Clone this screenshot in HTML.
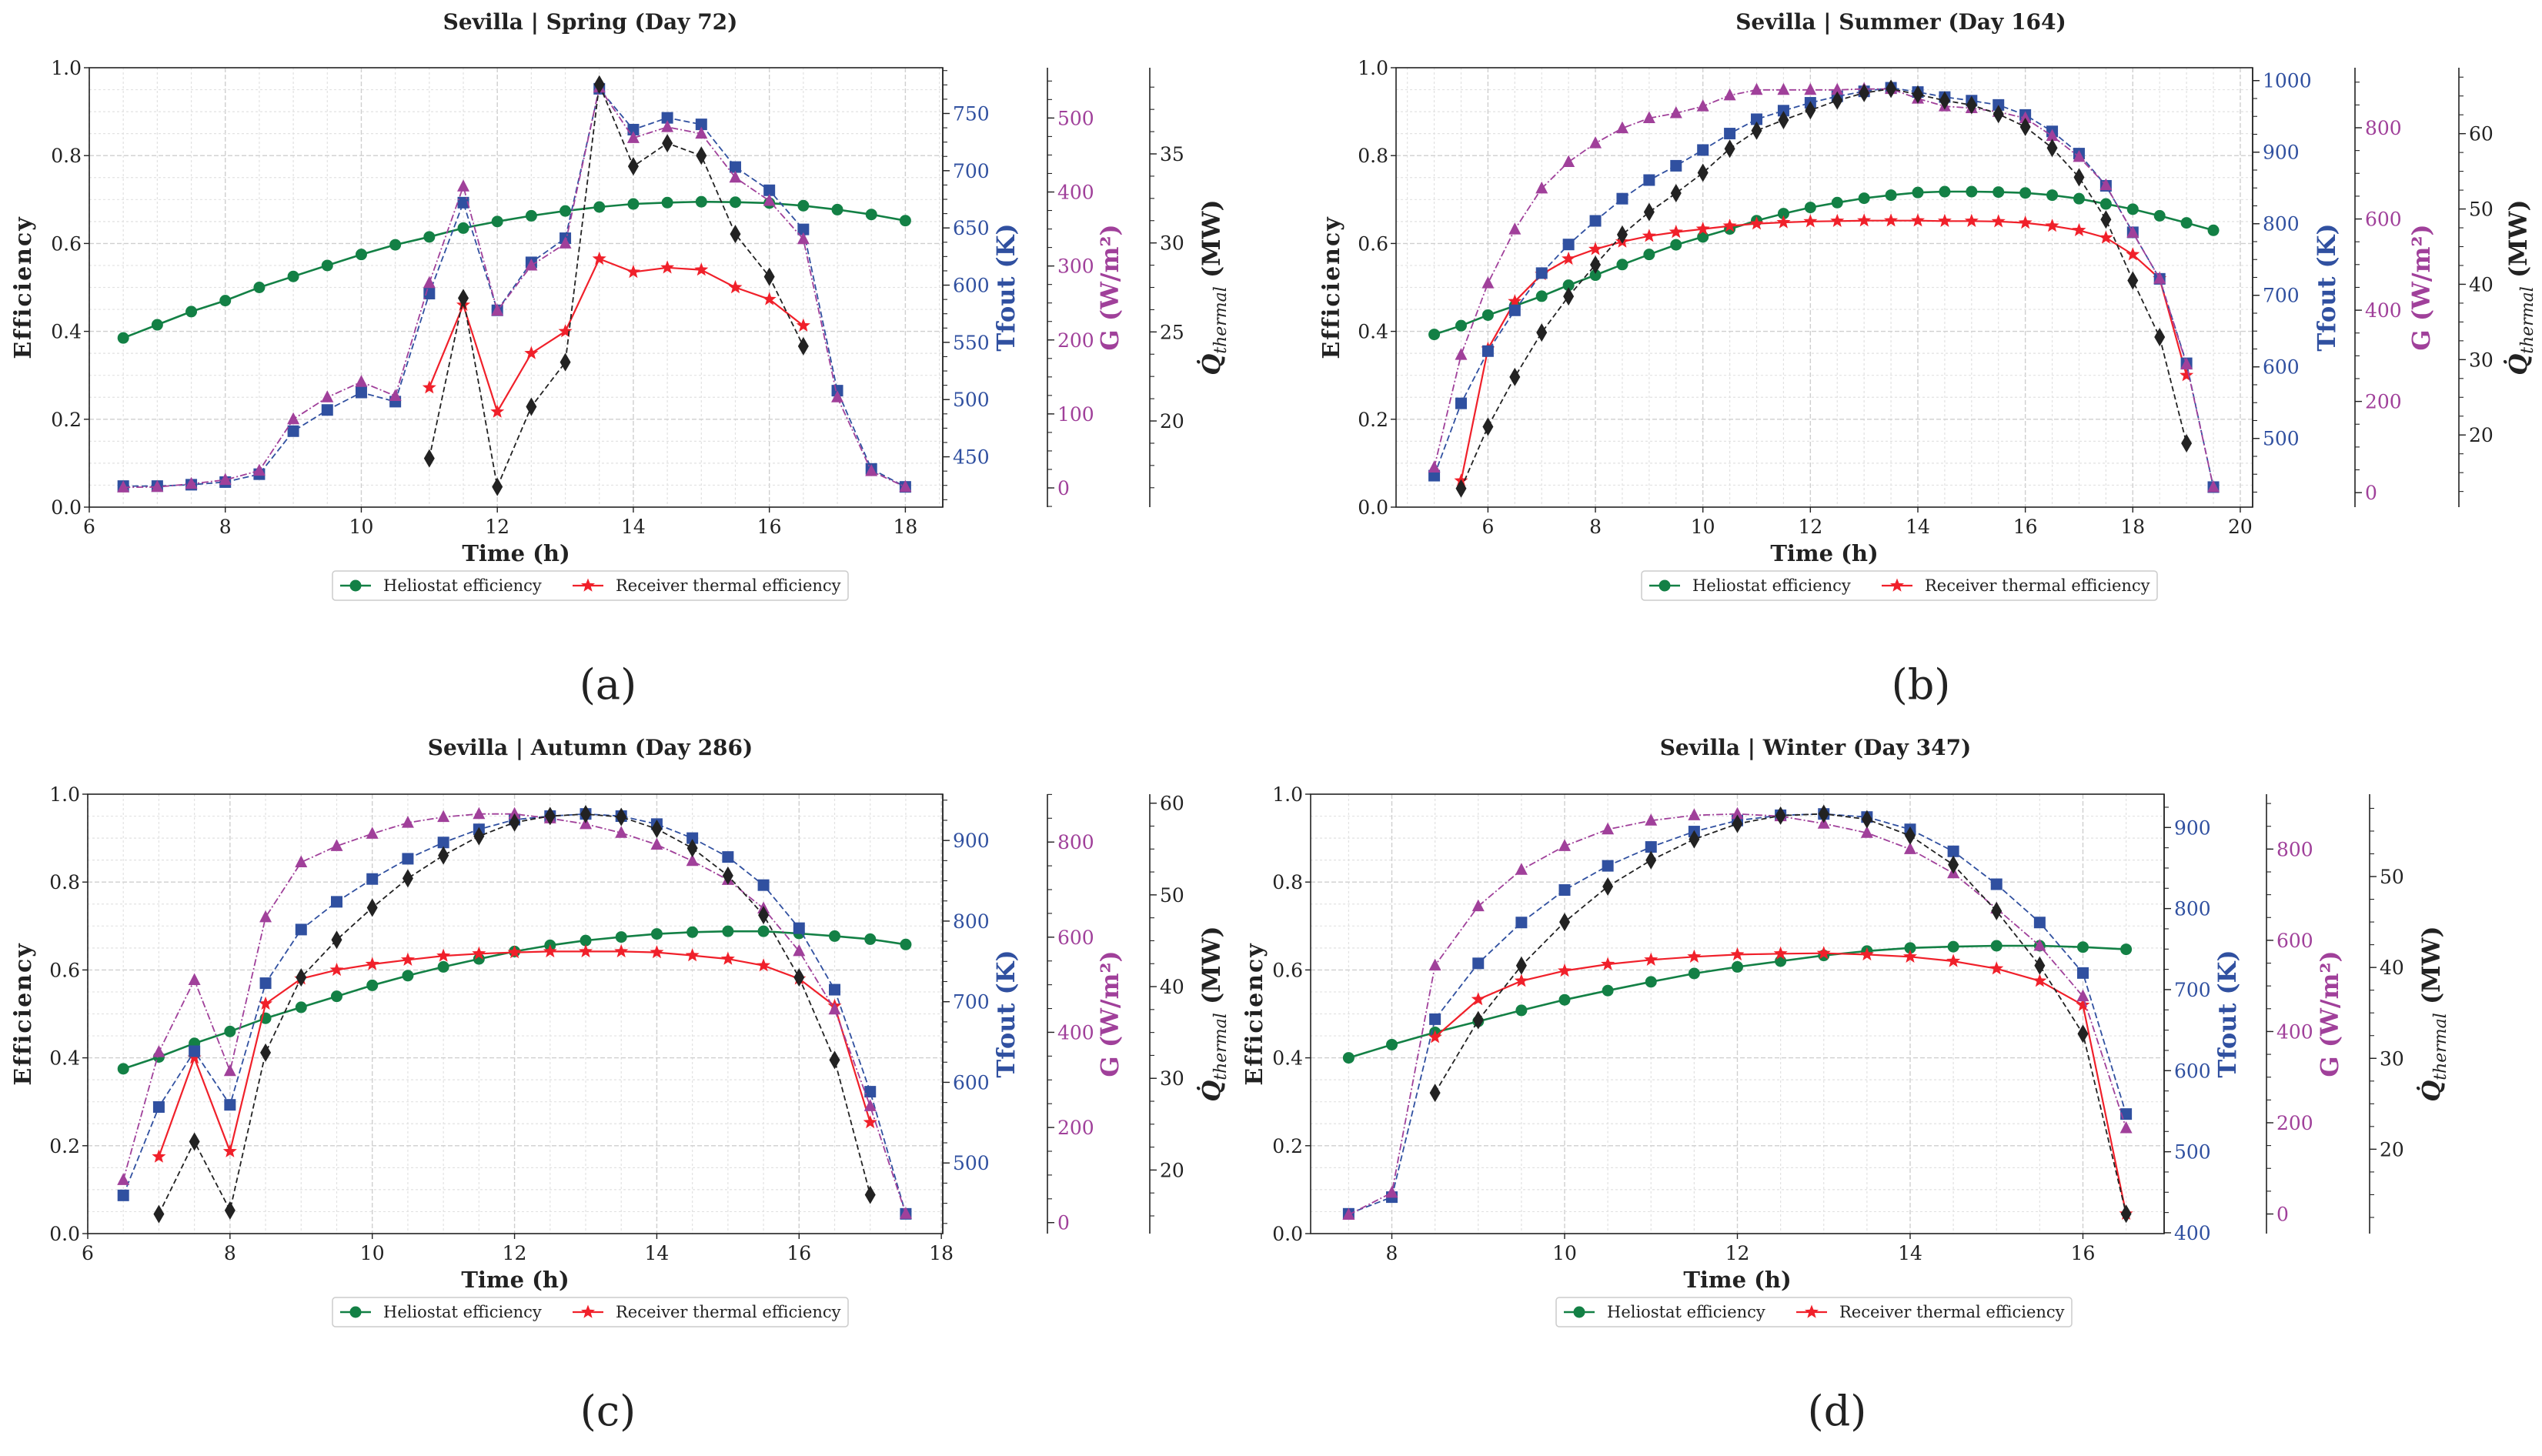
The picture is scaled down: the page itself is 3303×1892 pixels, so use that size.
<!DOCTYPE html>
<html><head><meta charset="utf-8"><style>
html,body{margin:0;padding:0;background:#fff;}
svg{display:block;}
text{font-family:"DejaVu Serif","Liberation Serif",serif;}
</style></head><body>
<svg id="fig" xmlns="http://www.w3.org/2000/svg" width="3303" height="1892" viewBox="0 0 3303 1892">
<rect width="3303" height="1892" fill="#fff"/>
</svg>
<script>
// ---------- Panel (a) Spring ----------
const aTimes=[6.5,7,7.5,8,8.5,9,9.5,10,10.5,11,11.5,12,12.5,13,13.5,14,14.5,15,15.5,16,16.5,17,17.5,18];
const aHelio=[0.385,0.415,0.445,0.47,0.5,0.525,0.55,0.575,0.597,0.615,0.635,0.65,0.663,0.674,0.683,0.69,0.693,0.695,0.694,0.692,0.686,0.677,0.666,0.652];
const aRecvTimes=[11,11.5,12,12.5,13,13.5,14,14.5,15,15.5,16,16.5];
const aRecv=[0.272,0.46,0.217,0.35,0.4,0.565,0.535,0.545,0.54,0.5,0.473,0.413];
const aTfout=[424.4,424.4,425.6,427.9,434.8,472.4,490.9,506.2,498.2,592.6,672.1,578,619.9,641,771.6,735.9,746.2,740.5,703.2,682.9,648.7,507.8,439.4,423.7];
const aG=[0.7,1.3,5.5,10.8,23.3,92.8,122.5,143.3,124.3,277,407.6,239.5,300.7,330.4,541.3,473,487.8,478.9,419.5,388,336.3,122.5,22.7,1.3];
const aQ=[17.9,26.9,16.3,20.8,23.3,38.9,34.3,35.6,34.9,30.5,28.1,24.2];
// ---------- Panel (b) Summer ----------
const bTimes=[5,5.5,6,6.5,7,7.5,8,8.5,9,9.5,10,10.5,11,11.5,12,12.5,13,13.5,14,14.5,15,15.5,16,16.5,17,17.5,18,18.5,19,19.5];
const bHelio=[0.393,0.413,0.437,0.458,0.48,0.505,0.528,0.552,0.575,0.597,0.615,0.633,0.652,0.668,0.682,0.693,0.703,0.71,0.716,0.718,0.718,0.717,0.715,0.71,0.702,0.69,0.678,0.663,0.647,0.63];
const bRecvTimes=[5.5,6,6.5,7,7.5,8,8.5,9,9.5,10,10.5,11,11.5,12,12.5,13,13.5,14,14.5,15,15.5,16,16.5,17,17.5,18,18.5,19];
const bRecv=[0.06,0.36,0.468,0.53,0.565,0.587,0.604,0.617,0.626,0.633,0.64,0.645,0.648,0.65,0.651,0.652,0.652,0.652,0.651,0.651,0.65,0.647,0.64,0.63,0.613,0.575,0.52,0.3];
const bTfout=[448,549,622,679,731,771,804,835,861,881,903,926,946,958,969,978,985,990,984,977,972,966,952,929,898,853,788,723,605,432];
const bG=[55,302,459,577,667,725,766,799,821,832,847,871,883,883,883,883,885,885,864,847,843,835,821,782,736,674,570,469,281,12];
const bQTimes=[5.5,6,6.5,7,7.5,8,8.5,9,9.5,10,10.5,11,11.5,12,12.5,13,13.5,14,14.5,15,15.5,16,16.5,17,17.5,18,18.5,19];
const bQ=[12.9,21.1,27.7,33.6,38.4,42.6,46.6,49.6,52.1,54.8,58.0,60.4,61.8,63.1,64.4,65.4,65.95,65.2,64.4,63.8,62.6,60.9,58.1,54.2,48.6,40.5,33.0,18.9];
// ---------- Panel (c) Autumn ----------
const cTimes=[6.5,7,7.5,8,8.5,9,9.5,10,10.5,11,11.5,12,12.5,13,13.5,14,14.5,15,15.5,16,16.5,17,17.5];
const cHelio=[0.375,0.402,0.433,0.46,0.49,0.515,0.54,0.565,0.587,0.607,0.625,0.642,0.656,0.667,0.675,0.682,0.686,0.688,0.688,0.683,0.677,0.67,0.658];
const cRecvTimes=[7,7.5,8,8.5,9,9.5,10,10.5,11,11.5,12,12.5,13,13.5,14,14.5,15,15.5,16,16.5,17];
const cRecv=[0.175,0.4,0.187,0.523,0.58,0.6,0.613,0.623,0.632,0.637,0.64,0.642,0.642,0.642,0.64,0.633,0.625,0.61,0.58,0.518,0.253];
const cTfout=[459.8,569.4,638.6,572.1,723,789.5,823.9,852.2,877.3,897.5,913.8,925.8,930.2,932.9,930.2,920.3,902.9,879.5,844.6,791.2,714.9,588.4,436.9];
const cG=[89.6,358.4,509.9,318.7,642,757.4,791.6,817.5,840.6,852.6,859,859,849.8,837.8,819.3,794.4,760.2,720.5,660.4,570.8,448,244.8,18.5];
const cQ=[15.2,23.1,15.6,32.8,41.0,45.1,48.6,51.8,54.3,56.4,57.9,58.6,58.8,58.5,57.2,55.1,52.1,47.8,41.0,32.0,17.3];
// ---------- Panel (d) Winter ----------
const dTimes=[7.5,8,8.5,9,9.5,10,10.5,11,11.5,12,12.5,13,13.5,14,14.5,15,15.5,16,16.5];
const dHelio=[0.4,0.43,0.458,0.483,0.508,0.532,0.553,0.573,0.592,0.607,0.62,0.633,0.643,0.65,0.653,0.655,0.655,0.652,0.647];
const dRecvTimes=[8.5,9,9.5,10,10.5,11,11.5,12,12.5,13,13.5,14,14.5,15,15.5,16,16.5];
const dRecv=[0.447,0.533,0.575,0.598,0.613,0.623,0.63,0.635,0.637,0.638,0.635,0.63,0.62,0.603,0.575,0.52,0.045];
const dTfout=[423.4,444,663.5,732.4,782.8,822.9,852.7,876,895,908.6,915.1,916.7,912.9,897.7,870.6,830,782.8,720.5,546.5];
const dG=[-1.6,46.6,544.7,674.7,754.7,806.7,843.3,862.6,874.2,877,872.2,855.9,835.6,800,747,669.9,588,477.2,188.2];
const dQ=[26.2,34.2,40.2,45.0,48.9,51.8,54.1,55.8,56.7,56.9,56.3,54.5,51.3,46.2,40.2,32.7,12.9];
// tick label arrays
const effTicks=[0,0.2,0.4,0.6,0.8,1.0];
const aXTicks=[6,8,10,12,14,16,18], bXTicks=[6,8,10,12,14,16,18,20], cXTicks=[6,8,10,12,14,16,18], dXTicks=[8,10,12,14,16];
const aTTicks=[450,500,550,600,650,700,750], aGTicks=[0,100,200,300,400,500], aQTicks=[20,25,30,35];
const bTTicks=[500,600,700,800,900,1000], bGTicks=[0,200,400,600,800], bQTicks=[20,30,40,50,60];
const cTTicks=[500,600,700,800,900], cGTicks=[0,200,400,600,800], cQTicks=[20,30,40,50,60];
const dTTicks=[400,500,600,700,800,900], dGTicks=[0,200,400,600,800], dQTicks=[20,30,40,50];

const NS="http://www.w3.org/2000/svg";
const fig=document.getElementById('fig');
function el(tag,attrs,parent){const e=document.createElementNS(NS,tag);for(const k in attrs)e.setAttribute(k,attrs[k]);(parent||fig).appendChild(e);return e;}

const BLUE="#3050a0",MAG="#a0409a",GREEN="#138045",RED="#f0202a",BLK="#222";

function marker(g,type,x,y,color){
  let m;
  if(type==='circle'){m=el('circle',{cx:x,cy:y,r:7.5,fill:color},g);}
  else if(type==='square'){m=el('rect',{x:x-7.5,y:y-7.5,width:15,height:15,fill:color},g);}
  else if(type==='tri'){m=el('polygon',{points:`${x},${y-9} ${x+8},${y+6.5} ${x-8},${y+6.5}`,fill:color},g);}
  else if(type==='diamond'){m=el('polygon',{points:`${x},${y-12} ${x+7},${y} ${x},${y+12} ${x-7},${y}`,fill:color},g);}
  else if(type==='star'){let p=[];for(let i=0;i<10;i++){const r=i%2?4:9.5;const a=-Math.PI/2+i*Math.PI/5;p.push((x+r*Math.cos(a)).toFixed(1)+','+(y+r*Math.sin(a)).toFixed(1));}m=el('polygon',{points:p.join(' '),fill:color},g);}
  return m;
}

function panel(cfg){
  const P=el('g',{});
  
  
  const {L,R,T,B}=cfg;
  const sx=v=>L+(v-cfg.xlim[0])/(cfg.xlim[1]-cfg.xlim[0])*(R-L);
  const sy=(v,lim)=>B-(v-lim[0])/(lim[1]-lim[0])*(B-T);
  const effLim=[0,1];
  const grid=el('g',{},P);
  
  
  for(let v=Math.ceil(cfg.xlim[0]*2)/2;v<=cfg.xlim[1];v+=0.5){
    const major=Math.abs(v-Math.round(v/2)*2)<1e-6;
    el('line',{x1:sx(v),x2:sx(v),y1:T,y2:B,stroke:major?'#cfcfcf':'#e2e2e2','stroke-width':major?1.4:1.2,'stroke-dasharray':major?'6 3':'3 3'},grid);
  }
  for(let i=1;i<20;i++){const v=i*0.05;const major=i%4===0;
    el('line',{x1:L,x2:R,y1:sy(v,effLim),y2:sy(v,effLim),stroke:major?'#cfcfcf':'#e2e2e2','stroke-width':major?1.4:1.2,'stroke-dasharray':major?'6 3':'3 3'},grid);}
  const fr=el('rect',{x:L,y:T,width:R-L,height:B-T,fill:'none',stroke:'#222','stroke-width':1.6},P);
  
  
  cfg.xticks.forEach(v=>{
    el('line',{x1:sx(v),x2:sx(v),y1:B,y2:B+7,stroke:'#222','stroke-width':1.4},P);
    const t=el('text',{x:sx(v),y:B+34,'font-size':25,'text-anchor':'middle',fill:'#222'},P);t.textContent=v;
    
    
  });
  effTicks.forEach(v=>{
    el('line',{x1:L-7,x2:L,y1:sy(v,effLim),y2:sy(v,effLim),stroke:'#222','stroke-width':1.4},P);
    const t=el('text',{x:L-10,y:sy(v,effLim)+9,'font-size':25,'text-anchor':'end',fill:'#222'},P);t.textContent=v.toFixed(1);
    
    
  });
  const xl=el('text',{x:(L+R)/2,y:B+70,'font-size':29,'text-anchor':'middle','font-weight':'bold',fill:'#222'},P);xl.textContent='Time (h)';
  
  
  const yl=el('text',{x:0,y:0,'font-size':30,'text-anchor':'middle','font-weight':'bold',fill:'#222','letter-spacing':2,transform:`translate(${cfg.effLabelX},${(T+B)/2}) rotate(-90)`},P);yl.textContent='Efficiency';
  
  
  const tt=el('text',{x:cfg.titleX,y:cfg.titleY,'font-size':28,'text-anchor':'middle','font-weight':'bold',fill:'#222'},P);tt.textContent=cfg.title;
  
  
  function axis(spX,lim,ticks,color,labX,name,labelFn,drawSpine){
    const g=el('g',{},P);
    
    
    if(drawSpine) el('line',{x1:spX,x2:spX,y1:T,y2:B,stroke:'#222','stroke-width':1.6},g);
    const step=(ticks[1]-ticks[0])/4;
    for(let v=Math.ceil(lim[0]/step)*step;v<=lim[1];v+=step){
      el('line',{x1:spX,x2:spX+6,y1:sy(v,lim),y2:sy(v,lim),stroke:'#222','stroke-width':1.1},g);}
    ticks.forEach(v=>{
      el('line',{x1:spX,x2:spX+9,y1:sy(v,lim),y2:sy(v,lim),stroke:'#222','stroke-width':1.4},g);
      const t=el('text',{x:spX+13,y:sy(v,lim)+9,'font-size':25,fill:color},g);t.textContent=v;
      
      
    });
    labelFn(g,labX);
  }
  axis(R,cfg.tLim,cfg.tTicks,BLUE,cfg.tLabX,'tfout-axis',(g,x)=>{
    const t=el('text',{'font-size':32,'font-weight':'bold',fill:BLUE,'text-anchor':'middle',transform:`translate(${x},${(T+B)/2}) rotate(-90)`},g);t.textContent='Tfout (K)';
    
    },true);
  axis(cfg.gSp,cfg.gLim,cfg.gTicks,MAG,cfg.gLabX,'irradiance-axis',(g,x)=>{
    const t=el('text',{'font-size':32,'font-weight':'bold',fill:MAG,'text-anchor':'middle',transform:`translate(${x},${(T+B)/2}) rotate(-90)`},g);t.textContent='G (W/m²)';
    
    },true);
  axis(cfg.qSp,cfg.qLim,cfg.qTicks,'#222',cfg.qLabX,'thermal-power-axis',(g,x)=>{
    const t=el('text',{'font-size':32,'font-weight':'bold',fill:'#222','text-anchor':'middle',transform:`translate(${x},${(T+B)/2}) rotate(-90)`},g);
    const s1=el('tspan',{'font-style':'italic'},t);s1.textContent='Q̇';
    const s2=el('tspan',{'font-style':'italic','font-size':22,'font-weight':'normal',dy:8},t);s2.textContent='thermal';
    const s3=el('tspan',{dy:-8},t);s3.textContent=' (MW)';
    
    },true);
  function series(xs,ys,lim,color,dash,width,mk,name){
    const g=el('g',{},P);
    
    
    const pts=xs.map((x,i)=>sx(x).toFixed(1)+','+sy(ys[i],lim).toFixed(1)).join(' ');
    el('polyline',{points:pts,fill:'none',stroke:color,'stroke-width':width,'stroke-dasharray':dash},g);
    xs.forEach((x,i)=>{const m=marker(g,mk,sx(x),sy(ys[i],lim),color);
      
      });
  }
  series(cfg.times,cfg.helio,effLim,GREEN,'none',2.6,'circle','heliostat-efficiency-series');
  series(cfg.recvTimes,cfg.recv,effLim,RED,'none',2.2,'star','receiver-efficiency-series');
  series(cfg.times,cfg.tf,cfg.tLim,BLUE,'8 4',1.8,'square','tfout-series');
  series(cfg.times,cfg.g,cfg.gLim,MAG,'9 3 2 3',1.8,'tri','irradiance-series');
  series(cfg.qTimes,cfg.q,cfg.qLim,BLK,'7 4',1.8,'diamond','thermal-power-series');
  const lg=el('g',{},P);
  
  
  const lx=cfg.legX,ly=cfg.legY;
  el('rect',{x:lx,y:ly,width:670,height:38,rx:4,fill:'#fff',stroke:'#ccc','stroke-width':1.5},lg);
  el('line',{x1:lx+10,x2:lx+50,y1:ly+19,y2:ly+19,stroke:GREEN,'stroke-width':2.6},lg);
  marker(lg,'circle',lx+30,ly+19,GREEN);
  const t1=el('text',{x:lx+66,y:ly+26,'font-size':21,fill:'#222'},lg);t1.textContent='Heliostat efficiency';
  
  
  el('line',{x1:lx+312,x2:lx+352,y1:ly+19,y2:ly+19,stroke:RED,'stroke-width':2.2},lg);
  marker(lg,'star',lx+332,ly+19,RED);
  const t2=el('text',{x:lx+368,y:ly+26,'font-size':21,fill:'#222'},lg);t2.textContent='Receiver thermal efficiency';
  
  
  const pl=el('text',{x:cfg.subX,y:cfg.subY,'font-size':54,'text-anchor':'middle',fill:'#222'},P);pl.textContent=cfg.sub;
  
  
}

panel({name:'panel-spring',L:116,R:1225,T:88,B:659,xlim:[6,18.55],xticks:aXTicks,times:aTimes,helio:aHelio,recvTimes:aRecvTimes,recv:aRecv,tf:aTfout,g:aG,qTimes:aRecvTimes,q:aQ,
  tLim:[406,790],tTicks:aTTicks,gLim:[-26,568],gTicks:aGTicks,qLim:[15.16,39.84],qTicks:aQTicks,gSp:1361,qSp:1494,tLabX:1318,gLabX:1453,qLabX:1585,effLabelX:40,
  title:'Sevilla  |  Spring (Day 72)',titleX:767,titleY:38,legX:432,legY:742,sub:'(a)',subX:790,subY:908});
panel({name:'panel-summer',L:1814,R:2927,T:88,B:659,xlim:[4.29,20.23],xticks:bXTicks,times:bTimes,helio:bHelio,recvTimes:bRecvTimes,recv:bRecv,tf:bTfout,g:bG,qTimes:bQTimes,q:bQ,
  tLim:[404,1018],tTicks:bTTicks,gLim:[-31.8,931.6],gTicks:bGTicks,qLim:[10.42,68.75],qTicks:bQTicks,gSp:3060,qSp:3195,tLabX:3034,gLabX:3157,qLabX:3283,effLabelX:1740,
  title:'Sevilla  |  Summer (Day 164)',titleX:2470,titleY:38,legX:2133,legY:742,sub:'(b)',subX:2496,subY:908});
panel({name:'panel-autumn',L:114,R:1225,T:1032,B:1603,xlim:[6,18.02],xticks:cXTicks,times:cTimes,helio:cHelio,recvTimes:cRecvTimes,recv:cRecv,tf:cTfout,g:cG,qTimes:cRecvTimes,q:cQ,
  tLim:[412.4,957.4],tTicks:cTTicks,gLim:[-23.1,900.6],gTicks:cGTicks,qLim:[13.07,60.98],qTicks:cQTicks,gSp:1361,qSp:1494,tLabX:1318,gLabX:1453,qLabX:1585,effLabelX:40,
  title:'Sevilla  |  Autumn (Day 286)',titleX:767,titleY:981,legX:432,legY:1686,sub:'(c)',subX:790,subY:1852});
panel({name:'panel-winter',L:1703,R:2812,T:1032,B:1603,xlim:[7.06,16.94],xticks:dXTicks,times:dTimes,helio:dHelio,recvTimes:dRecvTimes,recv:dRecv,tf:dTfout,g:dG,qTimes:dRecvTimes,q:dQ,
  tLim:[399,941.1],tTicks:dTTicks,gLim:[-43,920.4],gTicks:dGTicks,qLim:[10.72,59.06],qTicks:dQTicks,gSp:2945,qSp:3079,tLabX:2905,gLabX:3038,qLabX:3170,effLabelX:1640,
  title:'Sevilla  |  Winter (Day 347)',titleX:2359,titleY:981,legX:2022,legY:1686,sub:'(d)',subX:2387,subY:1852});
</script>
</body></html>
